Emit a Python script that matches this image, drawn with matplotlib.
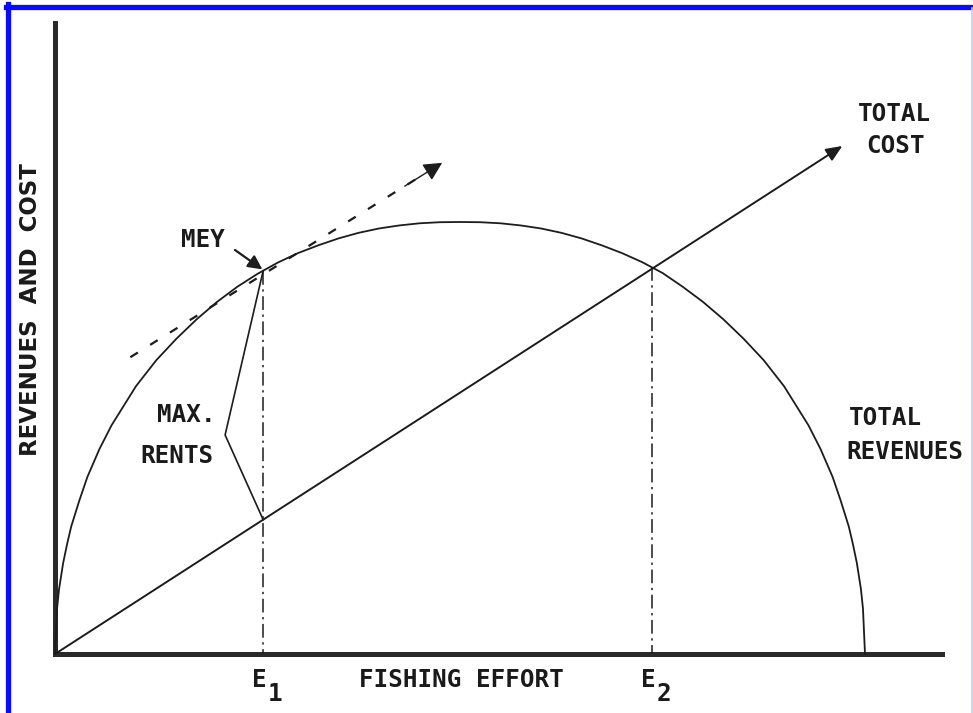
import matplotlib
matplotlib.use("Agg")
import matplotlib.pyplot as plt
from matplotlib.lines import Line2D
import numpy as np

# ---------------- data ----------------
effort = [0, 0.25, 0.5, 1, 1.5, 2, 3, 4, 5.5, 7, 8.5, 10, 12.5, 15, 17.5, 20,
          22.5, 25, 27.5, 30, 32.5, 35, 37.5, 40, 42.5, 45, 47.5, 50, 52.5, 55,
          57.5, 60, 62.5, 65, 67.5, 70, 72.5, 75, 77.5, 80, 82.5,
          85, 87.5, 90, 91.5, 93, 94.5, 96, 97, 98, 98.5, 99, 99.5, 99.75, 100]
revenue = [0, 10.5, 15, 21, 25.5, 29.5, 35.5, 41, 47.5, 53, 57.5, 62, 68, 73,
           77.5, 81.5, 85, 88, 90.6, 92.8, 94.6, 96.2, 97.5, 98.5, 99.2, 99.7,
           99.95, 100, 99.95, 99.7, 99.2, 98.5, 97.5, 96.2, 94.6,
           92.8, 90.7, 88.2, 85, 81.5, 77.5, 73, 68, 62, 57.5, 53, 47.5, 41,
           35.5, 29.5, 25.5, 21, 15, 10.5, 0]
cost_effort = [0, 97.2]
cost_value = [0, 117.6]
tangent_effort = [9.3, 47.8]
tangent_value = [68.7, 113.7]
E1 = 25.7
E2 = 73.7
rent_kink = (21.0, 50.7)
tick_labels = ["E", "E"]
tick_subs = ["1", "2"]

# ---------------- layout: data -> pixel mapping ----------------
W, H = 973, 713
X0, SX = 55.0, 8.1     # pixel of effort 0, pixels per effort unit
Y0, SY = 654.0, 4.32   # pixel of value 0, pixels per value unit

def px(x, y):
    """pixel (from top-left) to data coords"""
    return (x - X0) / SX, (Y0 - y) / SY

fig = plt.figure(figsize=(W / 100, H / 100), dpi=100)
fig.patch.set_facecolor("white")
ax = fig.add_axes([0, 0, 1, 1])
ax.set_xlim(px(0, 0)[0], px(W, 0)[0])
ax.set_ylim(px(0, H)[1], px(0, 0)[1])
ax.axis("off")

lab_fam = "DejaVu Sans Mono"
lab_size = 17.5

def label(x, y, s, ha="center", size=None):
    dx, dy = px(x, y)
    ax.text(dx, dy, s, ha=ha, va="center", family=lab_fam, weight="bold",
            fontsize=size or lab_size, color="#1a1a1a")

ink = "#1c1c1c"

# axes lines
top = px(0, 23)[1]
right = px(942, 0)[0]
ax.plot([0, 0], [top, 0], color="#2a2a2a", lw=3.6, solid_capstyle="projecting")
ax.plot([0, right], [0, 0], color="#2a2a2a", lw=3.6, solid_capstyle="projecting")

# total revenue curve
ax.plot(effort, revenue, color=ink, lw=1.3)

# total cost line with arrow
ax.annotate("", xy=(cost_effort[1], cost_value[1]),
            xytext=(cost_effort[0], cost_value[0]),
            arrowprops=dict(arrowstyle="-|>,head_length=0.7,head_width=0.3",
                            color=ink, lw=1.4, mutation_scale=14,
                            shrinkA=0, shrinkB=0))

# tangent (dashed) with arrow head
ax.plot(tangent_effort, tangent_value, color=ink, lw=1.6, dashes=(4, 6.5))
t = 0.12
back = (tangent_effort[1] - t * (tangent_effort[1] - tangent_effort[0]),
        tangent_value[1] - t * (tangent_value[1] - tangent_value[0]))
ax.annotate("", xy=(tangent_effort[1], tangent_value[1]), xytext=back,
            arrowprops=dict(arrowstyle="-|>,head_length=0.75,head_width=0.38",
                            color=ink, lw=1.0, mutation_scale=15,
                            shrinkA=0, shrinkB=0, alpha=1))

# revenue at E1/E2 and cost at E1
rE1 = np.interp(E1, effort, revenue)
rE2 = np.interp(E2, effort, revenue)
cE1 = cost_value[1] / cost_effort[1] * E1

# dash-dot verticals
for e, r in ((E1, rE1), (E2, rE2)):
    ax.plot([e, e], [r, 0], color=ink, lw=1.1, dashes=(9, 3, 1.5, 3))

# MAX. RENTS bracket
ax.plot([E1, rent_kink[0], E1], [rE1, rent_kink[1], cE1], color=ink, lw=1.2)

# MEY arrow
a0 = px(235, 250)
ax.annotate("", xy=(E1 - 0.1, rE1 + 0.3), xytext=a0,
            arrowprops=dict(arrowstyle="-|>,head_length=0.6,head_width=0.3",
                            color=ink, lw=1.6, mutation_scale=14,
                            shrinkA=0, shrinkB=0))

# labels
label(203, 240, "MEY")
label(216, 415, "MAX.", ha="right")
label(214, 456, "RENTS", ha="right")
label(894, 114, "TOTAL")
label(895, 146, "COST")
label(885, 418, "TOTAL")
label(905, 452, "REVENUES")
label(461, 680, "FISHING EFFORT")
for e, tl, s in ((E1, tick_labels[0], tick_subs[0]), (E2, tick_labels[1], tick_subs[1])):
    xp = X0 + e * SX
    label(xp - 4, 680, tl)
    label(xp + 12, 694, s)

yl = px(31, 310)
ax.text(yl[0], yl[1], "REVENUES  AND  COST", rotation=90, ha="center",
        va="center", family="DejaVu Sans", weight="bold", fontsize=16.5,
        color="#1a1a1a")

# blue frame (left, top, faint right)
fig.add_artist(Line2D([7.5 / W, 7.5 / W], [0, 1 - 4 / H], color="#0a0aff",
                      lw=3.8, transform=fig.transFigure))
fig.add_artist(Line2D([5.6 / W, 1], [1 - 6.5 / H, 1 - 6.5 / H], color="#0a0aff",
                      lw=3.8, transform=fig.transFigure))
fig.add_artist(Line2D([971.5 / W, 971.5 / W], [0, 1 - 8 / H], color="#c8c8ff",
                      lw=1.2, transform=fig.transFigure))

fig.savefig("out.png", dpi=100, facecolor="white")
